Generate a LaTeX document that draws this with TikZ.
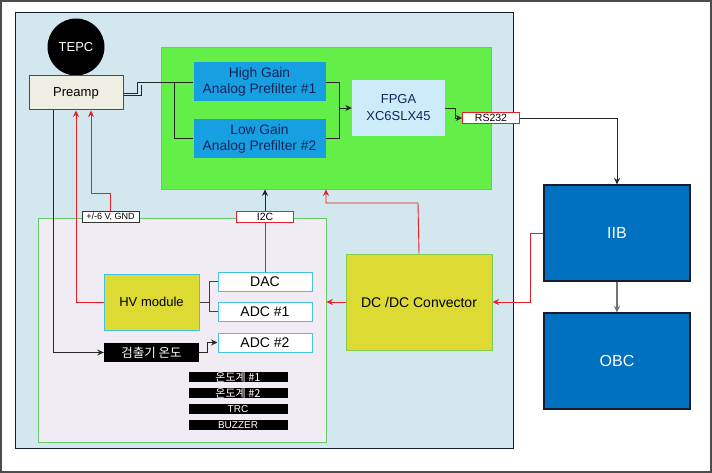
\documentclass[tikz,border=0pt]{standalone}
\usepackage{fontspec}
\setmainfont{Liberation Sans}
\newfontfamily\krfont{Noto Sans CJK KR}
\usepackage{tikz}
\usetikzlibrary{arrows.meta, positioning, calc}

\definecolor{panelblue}{RGB}{211,232,238}
\definecolor{boardgreen}{RGB}{100,238,72}
\definecolor{edgecyan}{RGB}{70,195,225}
\definecolor{filterblue}{RGB}{22,160,226}
\definecolor{fpgablue}{RGB}{204,236,250}
\definecolor{navytext}{RGB}{20,36,90}
\definecolor{iibblue}{RGB}{0,112,192}
\definecolor{darkline}{RGB}{25,30,45}
\definecolor{modyellow}{RGB}{222,218,52}
\definecolor{dcedge}{RGB}{130,205,80}
\definecolor{subboard}{RGB}{241,236,243}
\definecolor{subedge}{RGB}{105,200,105}
\definecolor{preampfill}{RGB}{238,238,226}
\definecolor{wirered}{RGB}{232,30,40}

\begin{document}
\begin{tikzpicture}[x=1pt, y=-1pt, >={Stealth[length=6.5pt,width=6pt]},
    every node/.style={inner sep=0pt, align=center},
    filterbox/.style={fill=filterblue, text=navytext, font=\fontsize{13.8}{16}\selectfont,
        minimum width=132pt, minimum height=39pt},
    convbox/.style={draw=edgecyan, fill=white, line width=1pt, font=\fontsize{14}{16}\selectfont,
        minimum width=94pt, minimum height=19pt},
    tagbox/.style={fill=black, text=white, font=\fontsize{10}{10}\selectfont,
        minimum width=99pt, minimum height=10pt},
    linkbox/.style={draw=wirered, fill=white, line width=0.8pt, font=\fontsize{10.5}{10}\selectfont,
        minimum width=57pt, minimum height=11.5pt},
    bluebox/.style={draw=darkline, fill=iibblue, text=white, line width=1.2pt,
        font=\fontsize{16}{18}\selectfont, minimum width=146pt, minimum height=96pt},
    signal/.style={draw=black!85, line width=0.9pt},
    power/.style={draw=wirered, line width=0.9pt}]

    \useasboundingbox (0,0) rectangle (712,473);
    \draw[black!70, line width=1.2pt] (1,1) rectangle (711,472);

    % main unit
    \node[draw=darkline, fill=panelblue, line width=0.8pt,
        minimum width=498pt, minimum height=436pt] (panel) at (264,230) {};
    \node[draw=edgecyan, fill=boardgreen, line width=0.8pt,
        minimum width=330pt, minimum height=142pt] (green) at (326,118) {};
    \node[draw=subedge, fill=subboard, line width=0.8pt,
        minimum width=288pt, minimum height=224pt] (sub) at (182,330.5) {};

    \node[circle, fill=black, text=white, minimum size=57pt,
        font=\fontsize{13}{15}\selectfont] (tepc) at (76,47) {TEPC};
    \node[draw=black!70, fill=preampfill, line width=1pt, minimum width=94pt, minimum height=34pt,
        font=\fontsize{13}{15}\selectfont] (preamp) at (76,93) {Preamp};

    \node[filterbox] (hgain) at (259.5,82) {High Gain\\Analog Prefilter \#1};
    \node[filterbox] (lgain) at (259.5,138.5) {Low Gain\\Analog Prefilter \#2};
    \node[fill=fpgablue, text=navytext, minimum width=93pt, minimum height=56pt,
        font=\fontsize{13}{17}\selectfont] (fpga) at (398.5,108) {FPGA\\XC6SLX45};
    \node[linkbox] (rs232) at (491,118) {RS232};

    \node[draw=dcedge, fill=modyellow, line width=1pt, minimum width=146pt, minimum height=96pt,
        font=\fontsize{14}{16}\selectfont] (dcdc) at (419,302) {DC /DC Convector};

    \node[draw=edgecyan, fill=modyellow, line width=1pt, minimum width=95pt, minimum height=56pt,
        font=\fontsize{13}{15}\selectfont] (hv) at (151.5,302) {HV module};
    \node[convbox] (dac) at (265,281.5) {DAC};
    \node[convbox] (adc1) at (265,311.5) {ADC \#1};
    \node[convbox] (adc2) at (265,342.5) {ADC \#2};
    \node[fill=black, text=white, minimum width=95pt, minimum height=19pt,
        font=\krfont\fontsize{12.5}{14}\selectfont] (temp) at (151.5,352.5) {검출기 온도};

    \node[tagbox, font=\krfont\fontsize{11}{10}\selectfont] (therm1) at (238,377) {온도계 \#1};
    \node[tagbox, font=\krfont\fontsize{11}{10}\selectfont] (therm2) at (238,393) {온도계 \#2};
    \node[tagbox] (trc) at (238,409) {TRC};
    \node[tagbox] (buzzer) at (238,425) {BUZZER};

    % outside
    \node[bluebox] (iib) at (617,233) {IIB};
    \node[bluebox] (obc) at (617,361) {OBC};

    % signal path
    \coordinate (split) at (174,82);
    \coordinate (merge) at (339,108);
    \draw[signal] (preamp.east) -- ++(14,0) |- (hgain.west);
    \draw[signal] ([yshift=-2pt]preamp.east) -- ++(18,0) -- ++(0,-10);
    \draw[signal] (split) |- (lgain.west);
    \draw[signal] (hgain.east) -| (merge);
    \draw[signal] (lgain.east) -| (merge);
    \draw[signal,->] (merge) -- (fpga.west);
    \draw[signal,->] (fpga.east) -- ++(10,0) |- (rs232.west);
    \draw[signal,->] (rs232.east) -| (iib.north);
    \draw[draw=black!55, line width=1.2pt, -{Stealth[length=6.5pt,width=6pt,fill=black]}]
        (iib.south) -- (obc.north);

    % I2C
    \node[linkbox] (i2c) at (265,217) {I2C};
    \draw[draw=black!65, line width=1pt] (dac.north) -- (i2c.south);
    \draw[signal,->] (i2c.north) -- (i2c.north |- green.south);

    % sub board wiring
    \coordinate (hvsplit) at (209,302);
    \draw[draw=black!75, line width=0.9pt] (hv.east) -- (hvsplit) |- (dac.west);
    \draw[draw=black!75, line width=0.9pt] (hvsplit) |- (adc1.west);
    \draw[signal,->] (temp.east) -- ++(8,0) |- (adc2.west);
    \draw[signal,->] ([xshift=-23pt]preamp.south) |- (temp.west);

    % power
    \node[draw=black!80, fill=white, line width=0.8pt, minimum width=57pt, minimum height=11pt,
        font=\fontsize{9}{9}\selectfont] (pwr) at (110.5,216.5) {+/-6 V, GND};
    \coordinate (pwrbend) at (110.5,193);
    \draw[power,->] (pwr.north) -- (pwrbend) -| ([xshift=15pt]preamp.south);
    \draw[power,->] (hv.west) -| (preamp.south);
    \coordinate (dcbend) at (418,203);
    \draw[power,->] (dcdc.north) -- (dcbend) -| (green.south);
    \draw[power,->] (dcdc.west) -- (dcdc.west -| sub.east);
    \coordinate (iibbend) at (530,233);
    \draw[power,->] (iib.west) -- (iibbend) |- (dcdc.east);
\end{tikzpicture}
\end{document}
